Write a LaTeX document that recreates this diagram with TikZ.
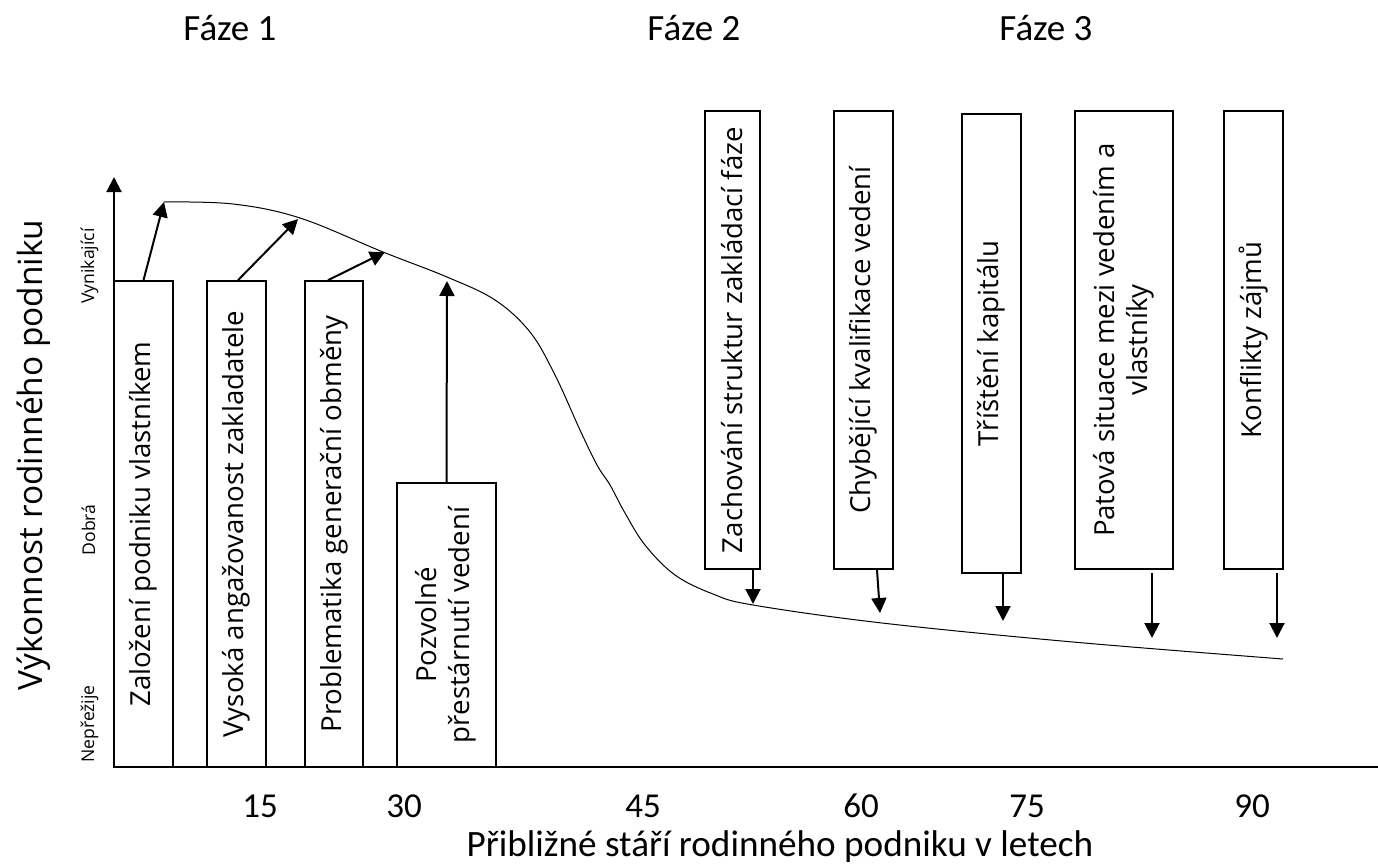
\documentclass[tikz,border=0pt]{standalone}
\usepackage{fontspec}
\setmainfont{Open Sans}
\newfontfamily\calibrifont{Carlito}
\usetikzlibrary{arrows.meta}

\begin{document}
\begin{tikzpicture}[x=0.5pt,y=-0.5pt,
    box/.style={draw,line width=0.8pt,inner sep=0pt,font=\fontsize{13.8}{16.5}\selectfont},
    pfeil/.style={line width=1pt,-{Triangle[length=7.5pt,width=7.5pt]}},
    faze/.style={font=\calibrifont\fontsize{18.5}{22}\selectfont},
    ticknum/.style={font=\calibrifont\fontsize{17.5}{21}\selectfont},
    yrank/.style={rotate=90,anchor=base,font=\fontsize{8.8}{10}\selectfont}]
    \useasboundingbox (0,0) rectangle (1378,868);

    % osy
    \coordinate (o) at (114,767);
    \coordinate (ytop) at (114,177);
    \coordinate (xend) at (1378,767);
    \draw[pfeil] (o) -- (ytop);
    \draw[line width=1pt] (o) -- (xend);

    % faze
    \node[faze] (f1) at (230,28) {Fáze 1};
    \node[faze] (f2) at (694,28) {Fáze 2};
    \node[faze] (f3) at (1046,28) {Fáze 3};

    % popisky os
    \node[ticknum] (x15) at (260,806) {15};
    \node[ticknum] (x30) at (404,806) {30};
    \node[ticknum] (x45) at (643,806) {45};
    \node[ticknum] (x60) at (861,806) {60};
    \node[ticknum] (x75) at (1027,806) {75};
    \node[ticknum] (x90) at (1252,806) {90};
    \node[ticknum,anchor=base,font=\calibrifont\fontsize{18.6}{22}\selectfont] (xtitle) at (780,856) {Přibližné stáří rodinného podniku v letech};
    \node[rotate=90,anchor=base,font=\fontsize{16.7}{19}\selectfont] (ytitle) at (42,455) {Výkonnost rodinného podniku};
    \node[yrank] (y1) at (94,266) {Vynikající};
    \node[yrank] (y2) at (95,530) {Dobrá};
    \node[yrank] (y3) at (94,724) {Nepřežije};

    % krivka
    \draw[line width=0.5pt] plot[smooth,tension=0.6] coordinates {
        (164,202) (233,204) (300,218) (383,252) (447,277) (495,300) (530,332)
        (555,375) (580,430) (597,465) (610,485) (625,513) (645,545) (675,575)
        (713,594) (753,605) (882,623) (1073,642) (1283,659)};

    % faze 1 - boxy
    \node[box,minimum width=59pt/2,minimum height=486pt/2] (b1) at (143.5,524) {\rotatebox{90}{Založení podniku vlastníkem}};
    \node[box,minimum width=59pt/2,minimum height=486pt/2] (b2) at (236.5,524) {\rotatebox{90}{Vysoká angažovanost zakladatele}};
    \node[box,minimum width=58pt/2,minimum height=486pt/2] (b3) at (334,524) {\rotatebox{90}{Problematika generační obměny}};
    \node[box,minimum width=99pt/2,minimum height=284pt/2] (b4) at (446.5,625)
        {\rotatebox{90}{\begin{tabular}{@{}c@{}}Pozvolné\\přestárnutí vedení\end{tabular}}};

    % faze 2 a 3 - boxy
    \node[box,minimum width=55pt/2,minimum height=458pt/2] (b5) at (732.5,340) {\rotatebox{90}{Zachování struktur zakládací fáze}};
    \node[box,minimum width=59pt/2,minimum height=458pt/2] (b6) at (863.5,340) {\rotatebox{90}{Chybějící kvalifikace vedení}};
    \node[box,minimum width=59pt/2,minimum height=459pt/2] (b7) at (991.5,343.5) {\rotatebox{90}{Tříštění kapitálu}};
    \node[box,minimum width=98pt/2,minimum height=458pt/2] (b8) at (1124,340)
        {\rotatebox{90}{\begin{tabular}{@{}c@{}}Patová situace mezi vedením a\\vlastníky\end{tabular}}};
    \node[box,minimum width=59pt/2,minimum height=458pt/2] (b9) at (1253.5,340) {\rotatebox{90}{Konflikty zájmů}};

    % cile sipek na krivce
    \coordinate (t1) at (164,202);
    \coordinate (t2) at (298,219);
    \coordinate (t3) at (385,252);
    \coordinate (t4) at (447,281);
    \coordinate (t5) at (753,604);
    \coordinate (t6) at (880,613);
    \coordinate (t7) at (1003,621);
    \coordinate (t8) at (1152,638);
    \coordinate (t9) at (1277,638);

    \draw[pfeil] (b1.north) -- (t1);
    \draw[pfeil] ([xshift=0.75pt]b2.north) -- (t2);
    \draw[pfeil] ([xshift=-3pt]b3.north) -- (t3);
    \draw[pfeil] (b4.north) -- (t4);
    \draw[pfeil] (b5.south -| t5) -- (t5);
    \draw[pfeil] ([xshift=6.75pt]b6.south) -- (t6);
    \draw[pfeil] (b7.south -| t7) -- (t7);
    \draw[pfeil] ([yshift=-1.5pt]b8.south -| t8) -- (t8);
    \draw[pfeil] ([yshift=-1.5pt]b9.south -| t9) -- (t9);
\end{tikzpicture}
\end{document}
